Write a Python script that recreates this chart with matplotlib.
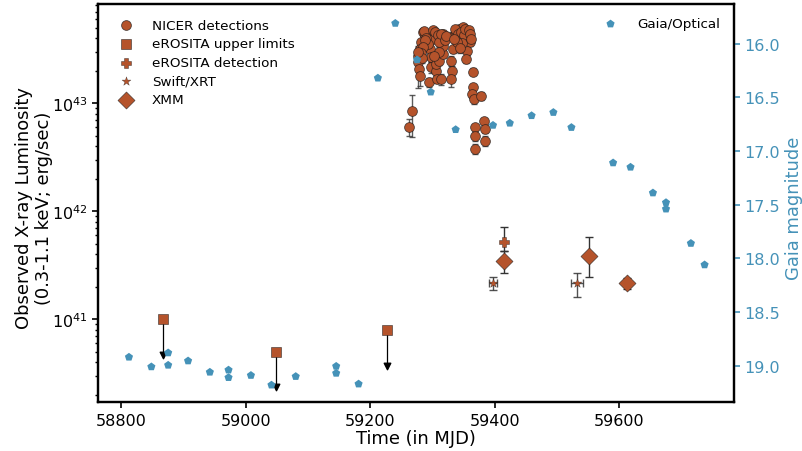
import numpy as np
import matplotlib
matplotlib.use("Agg")
import matplotlib.pyplot as plt

# ---------------- data ----------------
# NICER detections: MJD, luminosity (1e43 erg/s), symmetric error (1e43 erg/s)
nicer_mjd = [59262, 59267, 59284, 59287, 59282, 59279, 59276, 59276, 59278, 59279,
             59294, 59298, 59301, 59295, 59298, 59297, 59306, 59307, 59314, 59305,
             59311, 59317, 59316, 59319, 59317, 59333, 59338, 59343, 59349, 59346,
             59341, 59333, 59330, 59331, 59330, 59354, 59357, 59360, 59355, 59354,
             59365, 59365, 59364, 59366, 59378, 59368, 59382, 59384, 59368, 59384,
             59368, 59286, 59290, 59292, 59288, 59284, 59300, 59303, 59308, 59310,
             59313, 59320, 59322, 59310, 59302, 59336, 59340, 59345, 59350, 59347,
             59352, 59339, 59344, 59335, 59358, 59360, 59362, 59281, 59283, 59277]
nicer_lum = [0.604, 0.838, 4.52, 4.20, 3.65, 3.16, 2.74, 2.38, 2.06, 1.79,
             1.56, 4.35, 3.91, 3.16, 2.65, 2.14, 1.99, 1.67, 1.67, 2.30,
             2.46, 2.84, 3.40, 4.06, 4.35, 4.20, 4.52, 4.84, 5.02, 3.91,
             3.40, 3.16, 2.46, 1.99, 1.67, 4.52, 4.20, 3.65, 3.05, 2.55,
             1.96, 1.40, 1.21, 1.09, 1.17, 0.595, 0.685, 0.574, 0.498, 0.448,
             0.375, 4.60, 4.00, 3.50, 3.80, 3.30, 4.70, 4.50, 4.30, 3.70,
             4.40, 3.80, 4.20, 3.00, 2.70, 4.80, 4.40, 4.50, 4.30, 3.60,
             4.80, 3.70, 3.20, 3.90, 4.70, 4.40, 3.90, 2.90, 2.60, 3.00]
nicer_err = [0.11, 0.35, 0.35, 0.30, 0.30, 0.30, 0.30, 1.00, 0.20, 0.35,
             0.15, 0.35, 0.30, 0.30, 0.25, 0.25, 0.20, 0.15, 0.20, 0.20,
             0.20, 0.25, 0.30, 0.35, 0.35, 0.35, 0.35, 0.40, 0.40, 0.30,
             0.30, 0.25, 0.25, 0.20, 0.25, 0.35, 0.35, 0.30, 0.25, 0.20,
             0.15, 0.10, 0.10, 0.10, 0.10, 0.05, 0.05, 0.05, 0.05, 0.05,
             0.04, 0.40, 0.35, 0.30, 0.30, 0.30, 0.40, 0.40, 0.35, 0.30,
             0.35, 0.30, 0.35, 0.30, 0.25, 0.40, 0.35, 0.35, 0.35, 0.30,
             0.40, 0.30, 0.30, 0.30, 0.40, 0.35, 0.30, 0.30, 0.25, 0.30]

# eROSITA upper limits (erg/s)
ero_ul_mjd = [58867, 59048, 59227]
ero_ul_lum = [1.0e41, 5.0e40, 7.9e40]

# eROSITA detection (erg/s) with lower / upper errors
ero_det_mjd = [59415]
ero_det_lum = [5.2e41]
ero_det_lo = [0.9e41]
ero_det_hi = [2.0e41]

# Swift/XRT (erg/s)
swift_mjd = [59397, 59532]
swift_lum = [2.17e41, 2.15e41]
swift_xerr = [7, 9]
swift_lo = [0.30e41, 0.53e41]
swift_hi = [0.31e41, 0.55e41]

# XMM (erg/s)
xmm_mjd = [59414, 59551, 59612]
xmm_lum = [3.44e41, 3.83e41, 2.15e41]
xmm_lo = [0.77e41, 1.35e41, 0.23e41]
xmm_hi = [0.86e41, 1.97e41, 0.26e41]

# Gaia optical magnitudes
gaia_mjd = [58812, 58848, 58875, 58875, 58907, 58942, 58972, 58972, 59008, 59041,
            59080, 59145, 59145, 59181, 59212, 59240, 59275, 59297, 59337, 59397,
            59424, 59459, 59494, 59523, 59590, 59618, 59654, 59675, 59675, 59715,
            59737]
gaia_mag = [18.92, 19.01, 18.995, 18.88, 18.955, 19.06, 19.04, 19.11, 19.09, 19.18,
            19.10, 19.005, 19.07, 19.17, 16.32, 15.81, 16.15, 16.45, 16.80, 16.76,
            16.74, 16.67, 16.64, 16.78, 17.11, 17.15, 17.39, 17.48, 17.54, 17.86,
            18.06]

# ---------------- style ----------------
xray_color = "#b5532b"
gaia_color = "#4592b8"
err_color = "#333333"
edge = (0.1, 0.1, 0.1, 0.7)
tick_fs = 11.5
label_fs = 12.9

plt.rcParams["font.family"] = ["DejaVu Sans"]

fig = plt.figure(figsize=(8.02, 4.52), dpi=100)
ax = fig.add_axes([0.122, 0.108, 0.793, 0.881])

nicer_l = np.array(nicer_lum) * 1e43
nicer_e = np.array(nicer_err) * 1e43

# NICER
ax.errorbar(nicer_mjd, nicer_l, yerr=nicer_e, fmt="none", ecolor=err_color,
            elinewidth=1.0, capsize=2.5, alpha=0.8, zorder=2)
ax.scatter(nicer_mjd, nicer_l, s=50, marker="o", color=xray_color,
           edgecolors=edge, linewidths=0.6, zorder=3, label="NICER detections")

# eROSITA upper limits: square with downward arrow
ul = np.array(ero_ul_lum)
ax.vlines(ero_ul_mjd, ul * 0.47, ul, color="black", linewidth=0.9, zorder=2)
ax.scatter(ero_ul_mjd, ul * 0.47, marker="v", s=22, color="black", zorder=2)
ax.scatter(ero_ul_mjd, ul, marker="s", s=55, color=xray_color,
           edgecolors=edge, linewidths=0.5, zorder=3, label="eROSITA upper limits")

# eROSITA detection
ax.errorbar(ero_det_mjd, ero_det_lum, yerr=[ero_det_lo, ero_det_hi], fmt="none",
            ecolor=err_color, elinewidth=1.0, capsize=3, zorder=2)
ax.scatter(ero_det_mjd, ero_det_lum, marker="P", s=60, color=xray_color,
           edgecolors=edge, linewidths=0.4, zorder=3, label="eROSITA detection")

# Swift/XRT
ax.errorbar(swift_mjd, swift_lum, xerr=swift_xerr, yerr=[swift_lo, swift_hi],
            fmt="none", ecolor=err_color, elinewidth=1.0, capsize=3, alpha=0.85,
            zorder=2)
ax.scatter(swift_mjd, swift_lum, marker="*", s=45, color=xray_color,
           edgecolors=edge, linewidths=0.3, zorder=3, label="Swift/XRT")

# XMM
ax.errorbar(xmm_mjd, xmm_lum, yerr=[xmm_lo, xmm_hi], fmt="none",
            ecolor=err_color, elinewidth=1.0, capsize=3, zorder=2)
ax.scatter(xmm_mjd, xmm_lum, marker="D", s=75, color=xray_color,
           edgecolors=edge, linewidths=0.5, zorder=3, label="XMM")

ax.set_yscale("log")
ax.set_ylim(1.71e40, 8.26e43)
ax.set_xlim(58762, 59784)
ax.set_xticks([58800, 59000, 59200, 59400, 59600])
ax.set_xlabel("Time (in MJD)", fontsize=label_fs, labelpad=1)
ax.set_ylabel("Observed X-ray Luminosity\n(0.3-1.1 keV; erg/sec)", fontsize=label_fs)
ax.yaxis.set_label_coords(-0.07, 0.49)
ax.tick_params(axis="both", which="major", labelsize=tick_fs, width=1.2, length=4)
ax.tick_params(axis="y", which="minor", width=1.0, length=2.5)
for sp in ax.spines.values():
    sp.set_linewidth(1.6)

ax.legend(loc="upper left", frameon=False, fontsize=9.7,
          handletextpad=0.9, borderaxespad=0.6, labelspacing=0.42,
          borderpad=0.5)

# Gaia on the right axis
ax2 = ax.twinx()
ax2.scatter(gaia_mjd, gaia_mag, marker="p", s=38, color=gaia_color,
            edgecolors="none", zorder=3, label="Gaia/Optical")
ax2.set_ylim(19.34, 15.63)
ax2.set_yticks([16.0, 16.5, 17.0, 17.5, 18.0, 18.5, 19.0])
ax2.set_ylabel("Gaia magnitude", fontsize=label_fs, color=gaia_color)
ax2.yaxis.set_label_coords(1.081, 0.49)
ax2.tick_params(axis="y", labelsize=tick_fs, colors=gaia_color, width=1.2, length=4)
for sp in ax2.spines.values():
    sp.set_linewidth(1.6)
ax2.legend(loc="upper right", frameon=False, fontsize=9.7,
           handletextpad=1.0, borderaxespad=0.6)

fig.savefig("out.png", dpi=100)
